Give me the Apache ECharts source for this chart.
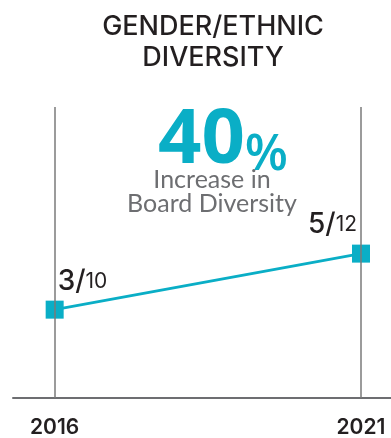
<!DOCTYPE html>
<html lang="en">
<head>
    <meta charset="UTF-8">
    <title>Gender/Ethnic Diversity</title>
    <script src="https://cdn.jsdelivr.net/npm/echarts@6/dist/echarts.min.js"></script>
    <style>
        html, body { margin: 0; padding: 0; background: #fff; }
        #container { width: 391px; height: 438px; }
    </style>
</head>
<body>
    <div id="container"></div>
</body>
<script type="text/javascript">
    // board seats held by diverse members / board size
    var years = [2016, 2021];
    var diverseSeats = [3, 5];
    var boardSize = [10, 12];
    var headline = '40';
    var headlineNote = 'Increase in\nBoard Diversity';

    var teal = '#0aaec6';
    var ink = '#231f20';
    var grey = '#6d6e71';

    var points = years.map(function (y, i) {
        return {
            value: [y, diverseSeats[i] / boardSize[i]],
            seats: diverseSeats[i],
            size: boardSize[i],
            label: i === 0
                ? { position: [12, -5], align: 'left', verticalAlign: 'bottom' }
                : { position: [5, -6], align: 'right', verticalAlign: 'bottom' }
        };
    });

    var chart = echarts.init(document.getElementById('container'), null, { renderer: 'canvas' });

    chart.setOption({
        animation: false,
        title: [{
            text: 'GENDER/ETHNIC\nDIVERSITY',
            left: 208,
            top: 6,
            textAlign: 'center',
            textStyle: {
                fontFamily: 'Inter',
                fontSize: 27,
                fontWeight: 500,
                lineHeight: 31,
                color: ink
            }
        }, {
            text: '{n|' + headline + '}{p|%}',
            left: 218,
            top: 96,
            textAlign: 'center',
            textStyle: {
                rich: {
                    n: { fontFamily: 'Open Sans', fontSize: 76, fontWeight: 'bold', color: teal, lineHeight: 80 },
                    p: { fontFamily: 'Open Sans', fontSize: 50, fontWeight: 600, color: teal, lineHeight: 80, verticalAlign: 'bottom' }
                }
            }
        }, {
            text: headlineNote,
            left: 207,
            top: 163,
            textAlign: 'center',
            textStyle: {
                fontFamily: 'Lato',
                fontSize: 25,
                fontWeight: 'normal',
                lineHeight: 24,
                color: grey
            }
        }],
        grid: { left: 13, right: 0, top: 107, bottom: 35 },
        xAxis: {
            type: 'value',
            min: 2015.32,
            max: 2021.49,
            axisLine: { show: true, lineStyle: { color: grey, width: 2 } },
            axisTick: { show: false },
            splitLine: { show: false },
            axisLabel: {
                customValues: years,
                formatter: function (v) { return String(v); },
                margin: 19,
                fontFamily: 'Inter',
                fontSize: 21,
                fontWeight: 600,
                color: ink
            }
        },
        yAxis: {
            type: 'value',
            min: 0.116,
            max: 0.722,
            show: false
        },
        series: [{
            type: 'line',
            data: points,
            symbol: 'rect',
            symbolSize: 18,
            lineStyle: { color: teal, width: 3 },
            itemStyle: { color: teal },
            label: {
                show: true,
                formatter: function (p) {
                    return '{a|' + p.data.seats + '/}{b|' + p.data.size + '}';
                },
                rich: {
                    a: { fontFamily: 'Inter', fontSize: 28, fontWeight: 500, color: ink },
                    b: { fontFamily: 'Inter', fontSize: 21, fontWeight: 400, color: ink }
                }
            },
            markLine: {
                silent: true,
                symbol: 'none',
                label: { show: false },
                lineStyle: { color: '#7a7a7a', width: 1.5, type: 'solid' },
                data: years.map(function (y) { return { xAxis: y }; })
            }
        }]
    });

    window.addEventListener('resize', chart.resize);
</script>
</html>
